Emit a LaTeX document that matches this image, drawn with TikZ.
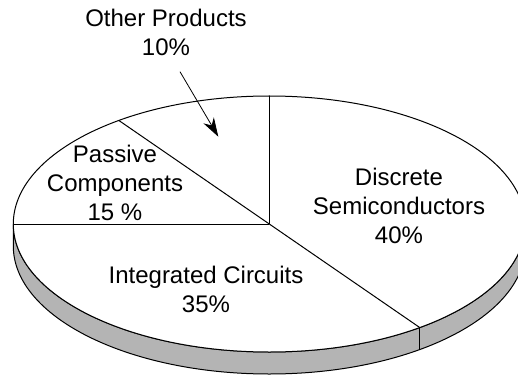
\documentclass[tikz,border=0pt]{standalone}
\usepackage{fontspec}
\setmainfont{Liberation Sans}
\usetikzlibrary{arrows.meta,calc}
\definecolor{sidegray}{RGB}{180,180,180}
\tikzset{
  lbl/.style={align=center, inner sep=0pt, font=\fontsize{24}{29}\selectfont},
  outline/.style={line width=1pt, draw=black},
}
\begin{document}
\begin{tikzpicture}[x=1pt,y=1pt]
\useasboundingbox (0,0) rectangle (518,375);
\clip (0,0) rectangle (518,375);
\coordinate (C) at (269.3,151);
% side of the disc
\path[outline, fill=sidegray] ($(C)+(180:256 and 128)$) -- ++(0,-22)
  arc[start angle=180, end angle=360, x radius=256, y radius=128] -- ++(0,22)
  arc[start angle=360, end angle=180, x radius=256, y radius=128] -- cycle;
% top of the disc
\path[outline, fill=white] (C) ellipse [x radius=256, y radius=128];
% dividers
\coordinate (p90) at ($(C)+(90:256 and 128)$);
\coordinate (p126) at ($(C)+(126:256 and 128)$);
\coordinate (p180) at ($(C)+(180:256 and 128)$);
\coordinate (p306) at ($(C)+(306:256 and 128)$);
\coordinate (p306b) at ($(p306)+(0,-22)$);
\draw[outline] (C) -- (p90);
\draw[outline] (C) -- (p126);
\draw[outline] (C) -- (p180);
\draw[outline] (C) -- (p306);
\draw[outline] (p306) -- (p306b);
% labels
\node[lbl] (other) at (166,343) {Other Products\\10\%};
\node[lbl] (passive) at (115,192.5) {Passive\\Components\\15 \%};
\node[lbl] (discrete) at (399,169) {Discrete\\Semiconductors\\40\%};
\node[lbl] (ic) at (206,85.2) {Integrated Circuits\\35\%};
% arrow
\coordinate (arrS) at (180,303.3);
\coordinate (arrE) at (218.3,238.3);
\draw[line width=0.8pt, -{Stealth[length=19pt,width=12pt,inset=6pt]}] (arrS) -- (arrE);
\end{tikzpicture}
\end{document}
